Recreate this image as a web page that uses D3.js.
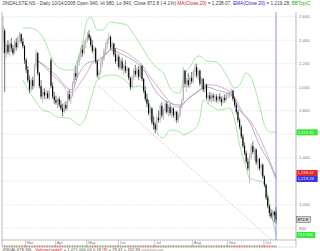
<!DOCTYPE html>
<meta charset="utf-8">
<style>
  body { margin: 0; background: #fff; }
  text { font-family: "Liberation Sans", Arial, sans-serif; }
</style>
<body>
<script src="https://d3js.org/d3.v7.min.js"></script>
<script>

// daily candles [open, high, low, close], mid Feb 2008 -> 14 Oct 2008
var ohlc = [
  // Feb
  [2380,2600,2290,2520],[2480,2500,1960,2290],[2290,2380,2250,2360],[2360,2400,2280,2300],
  [2300,2380,2260,2370],[2370,2420,2300,2330],[2330,2360,2270,2290],[2290,2400,2280,2380],
  [2380,2420,2310,2340],[2340,2440,2330,2420],[2420,2470,2380,2450],[2450,2460,2370,2390],
  [2390,2420,2330,2350],[2350,2360,2200,2230],
  // Mar
  [2230,2250,2120,2150],[2150,2180,2040,2060],[2060,2100,1950,1980],[1980,2080,1960,2060],
  [2060,2090,1980,2010],[2010,2200,2000,2180],[2180,2320,2150,2290],[2290,2300,2100,2120],
  [2120,2130,1990,2010],[2010,2060,1900,1920],[1920,1990,1870,1960],[1960,1990,1900,1930],
  [1930,1980,1890,1950],[1950,1970,1900,1910],[1910,1990,1890,1970],[2230,2250,1990,2010],
  [2010,2040,1900,1920],[1920,1960,1860,1890],
  // Apr
  [1890,1930,1850,1870],[1870,1910,1820,1900],[1900,1920,1830,1850],[1850,1890,1800,1820],
  [1820,1860,1755,1790],[1790,1870,1780,1850],[1850,1880,1800,1820],[1820,1960,1810,1940],
  [1940,1980,1880,1900],[1900,1950,1860,1930],[1930,2050,1920,2030],[2030,2150,2010,2120],
  [2120,2180,2060,2090],[2090,2230,2080,2210],[2210,2280,2180,2260],[2260,2340,2230,2320],
  [2320,2360,2260,2290],[2290,2400,2280,2380],[2380,2420,2330,2400],
  // May
  [2400,2470,2380,2450],[2450,2485,2400,2420],[2420,2440,2340,2360],[2360,2400,2290,2310],
  [2310,2350,2240,2330],[2330,2340,2200,2220],[2220,2230,2080,2100],[2100,2150,2060,2130],
  [2130,2220,2110,2200],[2200,2260,2170,2240],[2240,2330,2220,2310],[2310,2380,2280,2360],
  [2360,2420,2330,2400],[2400,2460,2370,2430],[2430,2440,2320,2340],[2340,2390,2300,2370],
  [2370,2380,2260,2280],[2280,2330,2200,2220],[2220,2290,2180,2260],
  // Jun
  [2260,2280,2150,2170],[2170,2240,2150,2220],[2220,2250,2140,2160],[2160,2200,2100,2180],
  [2180,2230,2120,2140],[2140,2180,2090,2160],[2160,2170,2060,2080],[2080,2090,1975,2000],
  [2000,2100,1990,2080],[2080,2160,2060,2140],[2140,2190,2090,2110],[2110,2170,2080,2150],
  [2150,2180,2060,2090],[2090,2200,2080,2180],[2180,2190,2050,2070],[2070,2080,1950,1970],
  [1970,2010,1880,1900],[1900,1950,1830,1860],[1860,1890,1760,1780],[1780,1840,1720,1820],
  [1820,1830,1680,1700],[1700,1750,1640,1680],
  // Jul
  [1680,1700,1610,1640],[1640,1760,1630,1740],[1740,1800,1700,1720],[1720,1860,1700,1840],
  [1840,1870,1740,1760],[1760,1820,1720,1800],[1800,1890,1780,1860],[1860,1880,1770,1790],
  [1790,1850,1750,1830],[1830,1860,1760,1780],[1780,1840,1740,1820],[1820,1830,1740,1760],
  [1760,1800,1710,1790],[1790,1800,1695,1720],[1720,1780,1700,1760],[1760,1850,1740,1830],
  [1830,1900,1810,1880],[1890,2170,1880,2140],[2140,2150,2000,2030],[2030,2080,1960,2060],
  [2060,2120,2000,2020],[2020,2100,1990,2080],[2080,2130,2030,2050],
  // Aug
  [2050,2150,2030,2130],[2130,2200,2090,2170],[2170,2200,2080,2100],[2100,2160,2060,2140],
  [2140,2150,2010,2030],[2030,2090,1990,2070],[2070,2080,1960,1980],[1980,2040,1950,2020],
  [2020,2030,1890,1910],[1910,1950,1860,1930],[1930,1960,1880,1900],[1900,1950,1870,1930],
  [1930,1950,1880,1910],[1910,1940,1870,1920],[1920,1940,1870,1890],[1890,1930,1860,1920],
  [1920,1950,1880,1900],[1900,1920,1840,1870],[1870,1930,1860,1910],[1910,1940,1870,1890],
  [1890,1950,1880,1930],
  // Sep
  [1930,1960,1900,1940],[1940,1970,1910,1950],[1950,1990,1920,1970],[1970,1980,1880,1900],
  [1900,1920,1830,1850],[1850,1870,1770,1790],[1790,1810,1700,1720],[1720,1740,1640,1660],
  [1660,1680,1560,1580],[1580,1600,1480,1500],[1500,1530,1420,1440],[1440,1460,1350,1370],
  [1370,1400,1290,1310],[1310,1440,1190,1400],[1400,1520,1380,1500],[1500,1540,1430,1450],
  [1450,1490,1380,1470],[1470,1480,1340,1360],[1360,1420,1300,1390],[1390,1400,1290,1310],
  [1310,1360,1250,1340],[1340,1350,1220,1240],
  // Oct
  [1240,1250,1150,1170],[1170,1180,1040,1060],[1060,1080,970,990],[990,1000,900,930],
  [930,960,880,900],[900,960,860,940],[940,950,850,910],[940,980,840,872.8]
];

// trading days per month (Feb .. Oct) and the month names on the axis
var monthDays = [14, 18, 19, 19, 22, 23, 21, 22, 8];
var monthNames = ["Mar", "Apr", "May", "Jun", "Jul", "Aug", "Sep", "Oct"];

// price grid
var gridValues = [800, 1000, 1200, 1400, 1600, 1800, 2000, 2200, 2400, 2600];

// overlays: [day index, value]
var maLine = [[20,2232],[24,2189],[28,2129],[33,2061],[36,2019],[40,1959],[42,1959],[47,2044],
  [51,2129],[54,2206],[59,2232],[63,2291],[66,2334],[71,2317],[75,2291],[79,2249],[83,2206],
  [89,2087],[95,1976],[101,1874],[105,1832],[107,1832],[111,1891],[117,1951],[123,2019],
  [127,2019],[133,1993],[137,1959],[141,1891],[145,1780],[149,1721],[155,1576],[161,1380],
  [165,1238.07]];
var emaLine = [[20,2232],[24,2197],[33,2087],[39,1993],[42,1976],[45,2087],[51,2206],[57,2232],
  [60,2257],[65,2317],[69,2300],[75,2257],[81,2206],[85,2146],[93,1951],[101,1866],[107,1849],
  [113,1917],[119,1976],[123,2002],[129,1976],[135,1951],[139,1917],[143,1806],[149,1704],
  [155,1508],[161,1355],[165,1219.28]];
var bbTop = [[12,2504],[16,2504],[20,2487],[24,2427],[27,2334],[30,2232],[34,2163],[39,2146],
  [42,2146],[45,2232],[48,2376],[51,2572],[53,2597],[57,2487],[60,2487],[65,2555],[69,2546],
  [75,2529],[78,2470],[81,2410],[85,2317],[89,2232],[93,2163],[97,2121],[101,1993],[105,1951],
  [107,1951],[109,2078],[113,2172],[117,2257],[119,2266],[123,2223],[129,2214],[135,2104],
  [140,1993],[143,2019],[147,2121],[149,2104],[152,2002],[155,1849],[158,1678],[161,1619],
  [165,1615.91]];
var bbBot = [[12,2061],[16,1959],[20,1874],[24,1806],[28,1789],[33,1746],[39,1738],[42,1721],
  [46,1678],[50,1746],[53,1891],[57,2061],[60,2087],[66,2104],[71,2087],[75,2044],[79,2002],
  [83,2010],[87,1917],[91,1746],[94,1593],[97,1568],[101,1636],[107,1619],[109,1593],[113,1619],
  [117,1661],[119,1738],[121,1891],[125,1849],[131,1806],[137,1823],[140,1721],[143,1508],
  [146,1363],[149,1228],[153,1210],[157,1193],[159,1142],[161,1014],[163,869],[165,743.344]];
var trendLine = [[57, 2019], [165, 669]];

// last-value tags on the price axis
var tagValues = [1615.91, 1238.07, 1219.28, 872.8, 743.344];
var tagTexts = ["1,615.91", "1,238.07", "1,219.28", "872.8", "743.344"];
var tagFills = ["#2ee82e", "#e02828", "#3434e8", "#d8d8d8", "#2ee82e"];
var tagInk = ["#eaffea", "#ffe0e0", "#e8e8ff", "#000", "#eaffea"];

var width = 320, height = 251;
var frame = {left: 2, right: 296, top: 12, bottom: 240, foot: 247};

var svg = d3.select("body").append("svg")
    .attr("width", width)
    .attr("height", height);

var x = d3.scaleLinear().domain([0, ohlc.length - 1]).range([3, 276]);
var y = d3.scaleLinear().domain([700, 2640]).range([frame.bottom, frame.top]);

svg.append("clipPath").attr("id", "plot")
  .append("rect").attr("x", frame.left).attr("y", frame.top)
    .attr("width", frame.right - frame.left).attr("height", frame.bottom - frame.top);

// header
var head = svg.append("text").attr("x", 2).attr("y", 5)
    .style("font-size", "4.75px").attr("fill", "#444");
head.append("tspan").text("JINDALSTE.NS - Daily 10/14/2008 Open 940, Hi 980, Lo 840, Close 872.8 (-4.1%) ");
head.append("tspan").attr("fill", "#d02020").text("MA(Close,20)");
head.append("tspan").text(" = 1,238.07, ");
head.append("tspan").attr("fill", "#2828d0").text("EMA(Close,20)");
head.append("tspan").text(" = 1,219.28, ");
head.append("tspan").attr("fill", "#20b020").text("BBTop(C");

// grid
svg.append("g").selectAll("line").data(gridValues).enter().append("line")
    .attr("x1", frame.left).attr("x2", frame.right)
    .attr("y1", function(d) { return y(d); }).attr("y2", function(d) { return y(d); })
    .attr("stroke", "#bbb").attr("stroke-width", 0.6)
    .attr("stroke-dasharray", "0.8,1.6");

// frame
svg.append("line").attr("x1", frame.left).attr("x2", frame.left)
    .attr("y1", frame.top).attr("y2", frame.foot)
    .attr("stroke", "#aaa").attr("stroke-width", 0.8);
svg.append("line").attr("x1", frame.right).attr("x2", frame.right)
    .attr("y1", frame.top).attr("y2", frame.foot)
    .attr("stroke", "#aaa").attr("stroke-width", 0.8);
svg.append("line").attr("x1", frame.left).attr("x2", frame.right)
    .attr("y1", frame.bottom).attr("y2", frame.bottom)
    .attr("stroke", "#aaa").attr("stroke-width", 0.8);
svg.append("line").attr("x1", frame.left).attr("x2", frame.right)
    .attr("y1", frame.foot).attr("y2", frame.foot)
    .attr("stroke", "#ccc").attr("stroke-width", 0.6);

var plot = svg.append("g").attr("clip-path", "url(#plot)");

// trend line
plot.append("line")
    .attr("x1", x(trendLine[0][0])).attr("y1", y(trendLine[0][1]))
    .attr("x2", x(trendLine[1][0])).attr("y2", y(trendLine[1][1]))
    .attr("stroke", "#e07878").attr("stroke-width", 0.6)
    .attr("stroke-dasharray", "1,1.2");

// overlay lines
var line = d3.line()
    .x(function(d) { return x(d[0]); })
    .y(function(d) { return y(d[1]); })
    .curve(d3.curveMonotoneX);

[[bbTop, "#5ed45e"], [bbBot, "#5ed45e"], [maLine, "#cc6a6a"], [emaLine, "#6a6acc"]]
  .forEach(function(s) {
    plot.append("path").datum(s[0])
        .attr("d", line)
        .attr("fill", "none")
        .attr("stroke", s[1])
        .attr("stroke-width", 0.55);
  });

// candles
var candles = plot.append("g").selectAll("g").data(ohlc).enter().append("g");
candles.append("line")
    .attr("x1", function(d, i) { return x(i); })
    .attr("x2", function(d, i) { return x(i); })
    .attr("y1", function(d) { return y(d[1]); })
    .attr("y2", function(d) { return y(d[2]); })
    .attr("stroke", function(d) { return d[3] >= d[0] ? "#8a8a8a" : "#000"; })
    .attr("stroke-width", 0.55);
candles.append("rect")
    .attr("x", function(d, i) { return x(i) - 0.55; })
    .attr("width", 1.1)
    .attr("y", function(d) { return y(Math.max(d[0], d[3])); })
    .attr("height", function(d) { return Math.max(0.6, Math.abs(y(d[0]) - y(d[3]))); })
    .attr("fill", function(d) { return d[3] >= d[0] ? "#b0b0b0" : "#000"; });

// current-day marker
svg.append("line")
    .attr("x1", x(ohlc.length - 1)).attr("x2", x(ohlc.length - 1))
    .attr("y1", frame.top).attr("y2", frame.bottom)
    .attr("stroke", "#7070ee").attr("stroke-width", 0.8);

// month axis
var starts = [], acc = 0;
monthDays.forEach(function(n) { acc += n; starts.push(acc); });
starts = starts.slice(0, monthNames.length);

var months = svg.append("g").selectAll("g").data(monthNames).enter().append("g");
months.append("line")
    .attr("x1", function(d, i) { return x(starts[i]) - 0.6; })
    .attr("x2", function(d, i) { return x(starts[i]) - 0.6; })
    .attr("y1", frame.bottom).attr("y2", frame.foot)
    .attr("stroke", "#aaa").attr("stroke-width", 0.6);
months.append("text")
    .attr("x", function(d, i) { return x(starts[i]) + 0.8; })
    .attr("y", 244)
    .style("font-size", "3.8px").attr("fill", "#777")
    .text(function(d) { return d; });

// daily up/down ticks under the axis
svg.append("g").selectAll("line").data(ohlc).enter().append("line")
    .attr("x1", function(d, i) { return x(i); })
    .attr("x2", function(d, i) { return x(i); })
    .attr("y1", 245.4).attr("y2", 247.4)
    .attr("stroke", function(d, i) {
      if (i === 0) return "#999";
      return d[3] >= ohlc[i - 1][3] ? "#2a9a2a" : "#d03030";
    })
    .attr("stroke-width", 0.7);

// tags: place bottom up, push up on overlap
var tagH = 6, tagY = [], prev = Infinity;
for (var k = tagValues.length - 1; k >= 0; k--) {
  var c = Math.min(y(tagValues[k]), prev - tagH);
  tagY[k] = c; prev = c;
}

// price labels, hidden where a tag sits
svg.append("g").selectAll("text")
    .data(gridValues.filter(function(v) {
      return tagY.every(function(t) { return Math.abs(t - y(v)) > 4; });
    }))
  .enter().append("text")
    .attr("x", 299).attr("y", function(d) { return y(d) + 1.5; })
    .style("font-size", "4.3px").attr("fill", "#777")
    .text(d3.format(","));

var tags = svg.append("g").selectAll("g").data(tagValues).enter().append("g");
tags.append("rect")
    .attr("x", frame.right + 0.5)
    .attr("y", function(d, i) { return tagY[i] - tagH / 2; })
    .attr("width", function(d, i) { return tagTexts[i].length * 2.4 + 2; })
    .attr("height", tagH)
    .attr("fill", function(d, i) { return tagFills[i]; })
    .attr("stroke", function(d, i) { return i === 3 ? "#555" : "none"; })
    .attr("stroke-width", 0.5);
tags.append("text")
    .attr("x", frame.right + 1.5)
    .attr("y", function(d, i) { return tagY[i] + 1.5; })
    .style("font-size", "4.2px")
    .attr("fill", function(d, i) { return tagInk[i]; })
    .text(function(d, i) { return tagTexts[i]; });

// footer
var foot = svg.append("text").attr("x", 2).attr("y", 251)
    .style("font-size", "4.2px").attr("fill", "#555");
foot.append("tspan").text("JINDALSTE.NS - ");
foot.append("tspan").attr("fill", "#d02020").text("Volume(undef)");
foot.append("tspan").text(" = 1,071,000.00 0.18 ");
foot.append("tspan").attr("fill", "#d02020").text("(9)");
foot.append("tspan").text(" = 29.41 = 152.83 ");
foot.append("tspan").style("font-size", "3px").attr("fill", "#888").text("stockcharts.com");

</script>
</body>
